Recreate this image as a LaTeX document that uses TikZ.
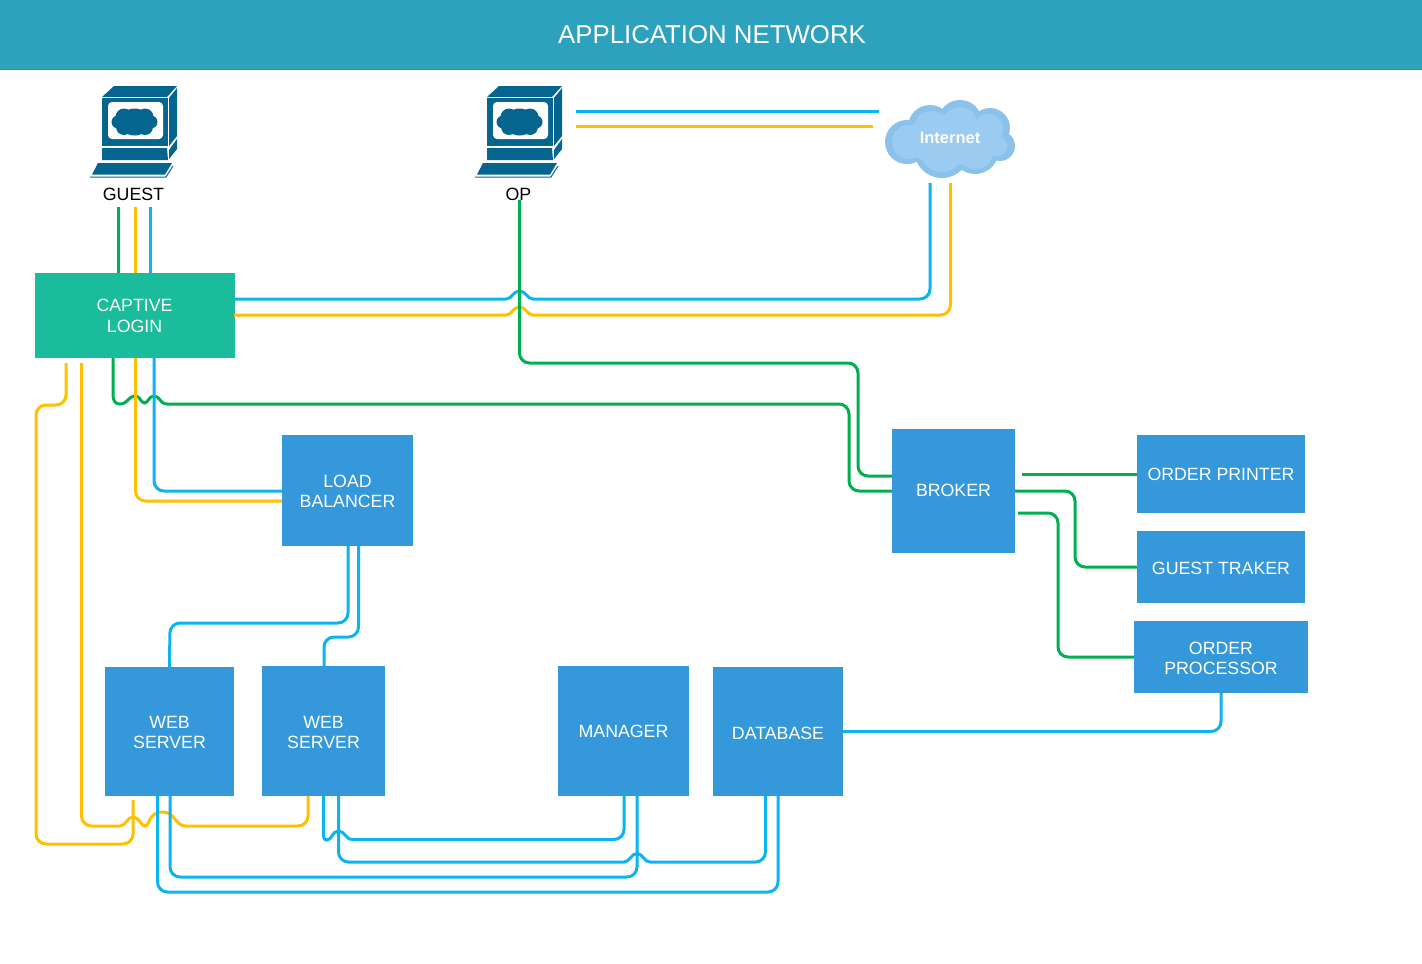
\documentclass[tikz,border=0pt]{standalone}
\usepackage{fontspec}
\setmainfont{Liberation Sans}
\definecolor{hdr}{HTML}{2CA2BF}
\definecolor{hdrl}{HTML}{2A93AD}
\definecolor{teal}{HTML}{1ABC9C}
\definecolor{boxb}{HTML}{3498DB}
\definecolor{lblue}{HTML}{0CB3EF}
\definecolor{lyel}{HTML}{FFC000}
\definecolor{lgrn}{HTML}{00B050}
\definecolor{pc}{HTML}{05658F}
\definecolor{cloudo}{HTML}{8AC2EC}
\definecolor{cloudi}{HTML}{9BCBF0}
\tikzset{
  box/.style={fill=boxb,text=white,align=center,inner sep=0pt,font=\fontsize{17.75}{20}\selectfont},
  lbl/.style={text=black,inner sep=0pt,font=\fontsize{17.75}{20}\selectfont},
  down1/.style={text height=15pt},
  down2/.style={text height=17pt},
  mline/.style={text height=35pt},
  up1/.style={text depth=2pt},
  bl/.style={draw=lblue,line width=3pt,rounded corners=10pt},
  yl/.style={draw=lyel,line width=3pt,rounded corners=10pt},
  gn/.style={draw=lgrn,line width=3pt,rounded corners=10pt},
  blh/.style={draw=lblue,line width=3pt},
  ylh/.style={draw=lyel,line width=3pt},
  gnh/.style={draw=lgrn,line width=3pt},
  computer/.pic={
    \fill[pc] (102,97) -- (114,86) -- (177,86) -- (167,97) -- cycle;
    \fill[pc] (169,98) -- (177,88) -- (177,136) -- (169,146) -- cycle;
    \fill[pc] (102,97.5) rectangle (167.5,146);
    \fill[pc] (169,150) -- (177,139) -- (177,149) -- (169,159) -- cycle;
    \fill[pc] (102,148) -- (167,148) -- (168,160) -- (102,160) -- cycle;
    \fill[pc] (98,163) -- (172,163) -- (165,174.5) -- (92,174.5) -- cycle;
    \draw[pc,line width=1pt] (90,177) -- (166,177) -- (173,166);
    \fill[white,rounded corners=4pt] (108,102) rectangle (163,139);
    \fill[pc] (134.5,122) ellipse (15 and 13.5);
    \foreach \p/\r in {{124,117}/8.5,{145,117}/8.5,{124,127}/8,{145,127}/8,{118,122}/6.5,{151,122}/6.5}{\fill[pc] (\p) circle (\r);}
  }
}
\begin{document}
\begin{tikzpicture}[x=1pt,y=-1pt]
\useasboundingbox (0,0) rectangle (1422,964);
\fill[white] (0,0) rectangle (1422,964);
\fill[hdr] (0,0) rectangle (1422,69);
\draw[hdrl,line width=1pt] (0,69.5) -- (1422,69.5);
\node[text=white,inner sep=0pt,font=\fontsize{25.8}{30}\selectfont] (title) at (712,35) {APPLICATION NETWORK};

\pic at (0,0) {computer};
\pic at (385,0) {computer};
\node[lbl] (guest) at (133.5,194) {GUEST};
\node[lbl] (op) at (518.5,194) {OP};

% cloud
\foreach \c/\r in {{907,142}/22,{930,127}/22,{960,122}/22,{990,128}/20,{1000,146}/15,{942,150}/28,{975,150}/24}{
  \fill[cloudo] (\c) circle (\r);
}
\fill[cloudo] (950,140) ellipse (50 and 28);
\foreach \c/\r in {{909,142}/17,{931,128}/17,{960,124}/17,{988,129}/15,{997,146}/10,{942,150}/22,{975,150}/19}{
  \fill[cloudi] (\c) circle (\r);
}
\fill[cloudi] (950,140) ellipse (46 and 25);
\node[text=white,inner sep=0pt,font=\fontsize{16.5}{18}\bfseries\selectfont] (inet) at (950,138) {Internet};

% boxes
\node[fill=teal,text=white,align=center,inner sep=0pt,minimum width=200pt,minimum height=85pt,font=\fontsize{17.75}{21}\selectfont] (login) at (134.5,315.5) {CAPTIVE\\LOGIN};
\node[box,mline,minimum width=131pt,minimum height=111pt] (lb) at (347.5,490.5) {LOAD\\BALANCER};
\node[box,mline,minimum width=129pt,minimum height=129pt] (web1) at (169.5,731.5) {WEB\\SERVER};
\node[box,mline,minimum width=123pt,minimum height=130pt] (web2) at (323.5,731) {WEB\\SERVER};
\node[box,minimum width=131pt,minimum height=130pt] (mgr) at (623.5,731) {MANAGER};
\node[box,down2,minimum width=130pt,minimum height=129pt] (db) at (778,731.5) {DATABASE};
\node[box,up1,minimum width=123pt,minimum height=124pt] (broker) at (953.5,491) {BROKER};
\node[box,minimum width=168pt,minimum height=78pt] (printer) at (1221,474) {ORDER PRINTER};
\node[box,down1,minimum width=168pt,minimum height=72pt] (traker) at (1221,567) {GUEST TRAKER};
\node[box,mline,minimum width=174pt,minimum height=72pt] (proc) at (1221,657) {ORDER\\PROCESSOR};

% free ends
\coordinate (gg) at (118,207);
\coordinate (gy) at (135.5,207);
\coordinate (gb) at (150.5,207);
\coordinate (opb) at (576,111.5);
\coordinate (opy) at (576,126.5);
\coordinate (inb) at (879,111.5);
\coordinate (iny) at (873,126.5);
\coordinate (cb) at (930,183);
\coordinate (cy) at (950.5,183);
\coordinate (opg) at (519.5,200);
\coordinate (ly1) at (66,363);
\coordinate (ly2) at (81.5,363);
\coordinate (wy1) at (133,800);
\coordinate (bg1) at (1022,474.5);
\coordinate (bg3) at (1018,513);

% guest to login
\draw[gn] (gg) -- (gg |- login.north);
\draw[yl] (gy) -- (gy |- login.north);
\draw[bl] (gb) -- (gb |- login.north);
% op to internet
\draw[bl] (opb) -- (inb);
\draw[yl] (opy) -- (iny);
% login to internet
\draw[blh] (234,299) -- (506,299) .. controls (512,299) and (513,291) .. (519.5,291) .. controls (526,291) and (527,299) .. (533,299) -- (920,299) .. controls (925.5,299) and (930,294.5) .. (930,289) -- (cb);
\draw[ylh] (234,315) -- (506,315) .. controls (512,315) and (513,307) .. (519.5,307) .. controls (526,307) and (527,315) .. (533,315) -- (940.5,315) .. controls (946,315) and (950.5,310.5) .. (950.5,305) -- (cy);
% op to broker
\draw[gn] (opg) -- (519.5,363) -- (858,363) -- (858,476) -- (892,476);
% login to broker
\draw[gnh] (113,358) -- (113,394) .. controls (113,402) and (116,404) .. (120,404) .. controls (128,404) and (128,396) .. (135.5,396) .. controls (140,396) and (141,403) .. (144.5,403) .. controls (148,403) and (149,396) .. (154,396) .. controls (160,396) and (160,404) .. (167,404) -- (839,404) .. controls (844.5,404) and (849,408.5) .. (849,414) -- (849,481) .. controls (849,486.5) and (853.5,491) .. (859,491) -- (broker.west);
% login to load balancer
\draw[yl] (135.5,358) -- (135.5,501) -- (282,501);
\draw[bl] (154,358) -- (154,491) -- (282,491);
% login to web servers
\draw[yl] (ly1) -- (66,405) -- (36,405) -- (36,844) -- (133,844) -- (wy1);
\draw[ylh] (ly2) -- (81.5,816) .. controls (81.5,821.5) and (86,826) .. (91.5,826) -- (120,826) .. controls (126,826) and (127,817) .. (133,817) .. controls (139,817) and (141,826) .. (145,826) .. controls (150,826) and (148,812) .. (163,812) .. controls (175,812) and (175,826) .. (186,826) -- (298,826) .. controls (303.5,826) and (308,821.5) .. (308,816) -- (308,796);
% load balancer to web servers
\draw[bl] (348,546) -- (348,623) -- (170,623) -- (web1.north);
\draw[bl] (358.5,546) -- (358.5,637) -- (324,637) -- (324,666);
% web servers to manager and database
\draw[bl] (157.5,796) -- (157.5,892) -- (778,892) -- (778,796);
\draw[bl] (170,796) -- (170,877) -- (637,877) -- (637,796);
\draw[blh] (323.5,796) -- (323.5,836) .. controls (323.5,839) and (325,840) .. (327,840) .. controls (332,840) and (332,831) .. (338.5,831) .. controls (345,831) and (345,839.5) .. (353,839.5) -- (614,839.5) .. controls (619.5,839.5) and (624,835) .. (624,829.5) -- (624,796);
\draw[blh] (338.5,796) -- (338.5,852) .. controls (338.5,857.5) and (343,862) .. (348.5,862) -- (624,862) .. controls (630,862) and (631,853.5) .. (637,853.5) .. controls (643,853.5) and (644,862) .. (650,862) -- (755.5,862) .. controls (761,862) and (765.5,857.5) .. (765.5,852) -- (765.5,796);
% database to order processor
\draw[bl] (db.east) -- (1221,731.5) -- (proc.south);
% broker to services
\draw[gn] (bg1) -- (bg1 -| printer.west);
\draw[gn] (broker.east) -- (1075,491) -- (1075,567) -- (traker.west);
\draw[gn] (bg3) -- (1058,513) -- (1058,657) -- (proc.west);
\end{tikzpicture}
\end{document}
